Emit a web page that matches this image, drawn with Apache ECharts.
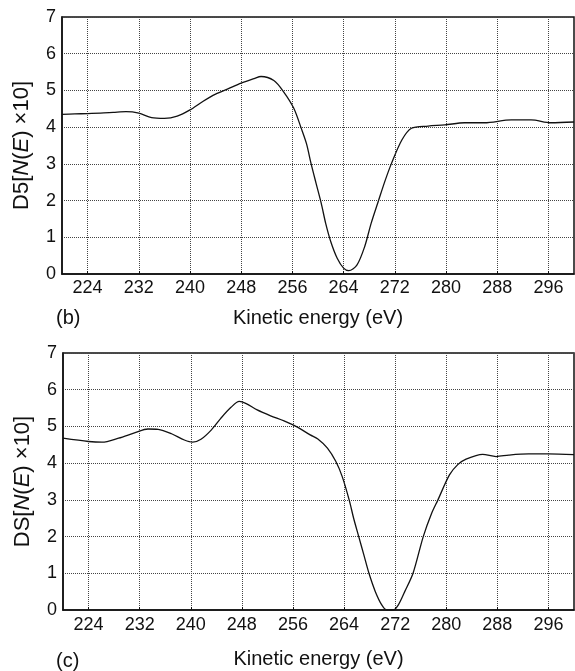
<!DOCTYPE html>
<html>
<head>
<meta charset="utf-8">
<script src="https://cdn.jsdelivr.net/npm/echarts@6/dist/echarts.min.js"></script>
<style>
html,body{margin:0;padding:0;background:#fff;}
#chart{width:575px;height:671px;}
</style>
</head>
<body>
<div id="chart"></div>
<script>
// Tick values on the energy axis
const energyTicks = [224, 232, 240, 248, 256, 264, 272, 280, 288, 296];

// Panel (b)
const energyB = [220, 222, 224, 226, 228, 230, 232, 234, 236, 238, 240, 242, 244, 246, 248, 250, 251.1, 253.1, 254.6, 256.2, 257.4, 258.2, 258.9, 259.7, 260.5, 261.2, 262.0, 263.0, 264.0, 264.8, 266.1, 267.3, 268.3, 269.4, 270.5, 271.5, 273.1, 274.6, 277.2, 279.8, 282.9, 286.0, 290.2, 293.3, 296.4, 300];
const valuesB = [4.35, 4.36, 4.37, 4.38, 4.40, 4.42, 4.38, 4.26, 4.24, 4.30, 4.47, 4.70, 4.90, 5.05, 5.20, 5.32, 5.38, 5.27, 4.97, 4.52, 3.96, 3.55, 3.02, 2.47, 1.93, 1.38, 0.88, 0.43, 0.16, 0.09, 0.25, 0.75, 1.38, 1.97, 2.55, 3.02, 3.65, 3.97, 4.03, 4.06, 4.12, 4.12, 4.20, 4.20, 4.12, 4.14];

// Panel (c)
const energyC = [220, 224, 226.1, 228.7, 231.3, 233.3, 234.9, 237, 239, 240.3, 241.6, 243.2, 244.7, 246.3, 247.6, 248.6, 250.4, 252.5, 254.6, 256.7, 258.7, 259.9, 261.4, 262.7, 263.7, 264.8, 265.5, 266.3, 267.1, 267.9, 268.9, 269.9, 270.7, 271.7, 272.5, 273.5, 274.8, 276.4, 277.7, 278.7, 280.5, 281.8, 283.1, 285.7, 287.8, 289.8, 292.9, 296, 300];
const valuesC = [4.68, 4.59, 4.57, 4.68, 4.83, 4.93, 4.92, 4.80, 4.63, 4.57, 4.65, 4.90, 5.22, 5.52, 5.68, 5.63, 5.45, 5.29, 5.15, 4.98, 4.77, 4.66, 4.41, 4.05, 3.64, 3.00, 2.50, 2.00, 1.50, 1.00, 0.50, 0.14, 0.0, 0.0, 0.14, 0.50, 1.00, 2.00, 2.63, 3.00, 3.68, 3.96, 4.11, 4.24, 4.18, 4.22, 4.25, 4.25, 4.23];

const yNameB = 'D5[{i|N}({i|E}) \u00d710]';
const yNameC = 'DS[{i|N}({i|E}) \u00d710]';
const xName = 'Kinetic energy (eV)';

const FONT = '"Liberation Sans", Arial, Helvetica, sans-serif';

function xAxisDef(gridIndex, labelMargin, nameGap) {
  return {
    type: 'value', gridIndex: gridIndex, min: 220, max: 300,
    name: xName, nameLocation: 'middle', nameGap: nameGap,
    nameTextStyle: {fontFamily: FONT, fontSize: 20, color: '#111'},
    axisLine: {show: true, lineStyle: {color: '#111', width: 1.5}},
    axisTick: {show: true, inside: true, length: 3, customValues: energyTicks, lineStyle: {color: '#111'}},
    axisLabel: {customValues: energyTicks, margin: labelMargin, fontFamily: FONT, fontSize: 18, color: '#111'},
    splitLine: {show: true, lineStyle: {color: '#444', type: 'dotted', width: 1}}
  };
}
function yAxisDef(gridIndex, name) {
  return {
    type: 'value', gridIndex: gridIndex, min: 0, max: 7, interval: 1,
    name: name, nameLocation: 'middle', nameGap: 29, nameRotate: 90,
    nameTextStyle: {fontFamily: FONT, fontSize: 22, color: '#111',
      rich: {i: {fontFamily: FONT, fontSize: 22, fontStyle: 'italic', color: '#111'}}},
    axisLine: {show: true, lineStyle: {color: '#111', width: 1.5}},
    axisTick: {show: false},
    axisLabel: {margin: 6, fontFamily: FONT, fontSize: 18, color: '#111'},
    splitLine: {show: true, lineStyle: {color: '#444', type: 'dotted', width: 1}}
  };
}

const chart = echarts.init(document.getElementById('chart'), null, {renderer: 'canvas'});
chart.setOption({
  backgroundColor: '#fff',
  animation: false,
  grid: [
    {left: 62, top: 17, right: 1, height: 257, show: true, borderColor: '#111', borderWidth: 1.5, backgroundColor: 'transparent'},
    {left: 63, top: 353, right: 1, height: 257, show: true, borderColor: '#111', borderWidth: 1.5, backgroundColor: 'transparent'}
  ],
  xAxis: [xAxisDef(0, 5, 34), xAxisDef(1, 6, 39)],
  yAxis: [yAxisDef(0, yNameB), yAxisDef(1, yNameC)],
  graphic: [
    {type: 'text', left: 56, top: 308, style: {text: '(b)', font: '20px ' + FONT, fill: '#111'}},
    {type: 'text', left: 56, top: 651, style: {text: '(c)', font: '20px ' + FONT, fill: '#111'}}
  ],
  series: [
    {type: 'line', xAxisIndex: 0, yAxisIndex: 0, smooth: 0.3, symbol: 'none',
     lineStyle: {color: '#111', width: 1.3},
     data: energyB.map((e, k) => [e, valuesB[k]])},
    {type: 'line', xAxisIndex: 1, yAxisIndex: 1, smooth: 0.3, symbol: 'none',
     lineStyle: {color: '#111', width: 1.3},
     data: energyC.map((e, k) => [e, valuesC[k]])}
  ]
});
</script>
</body>
</html>
